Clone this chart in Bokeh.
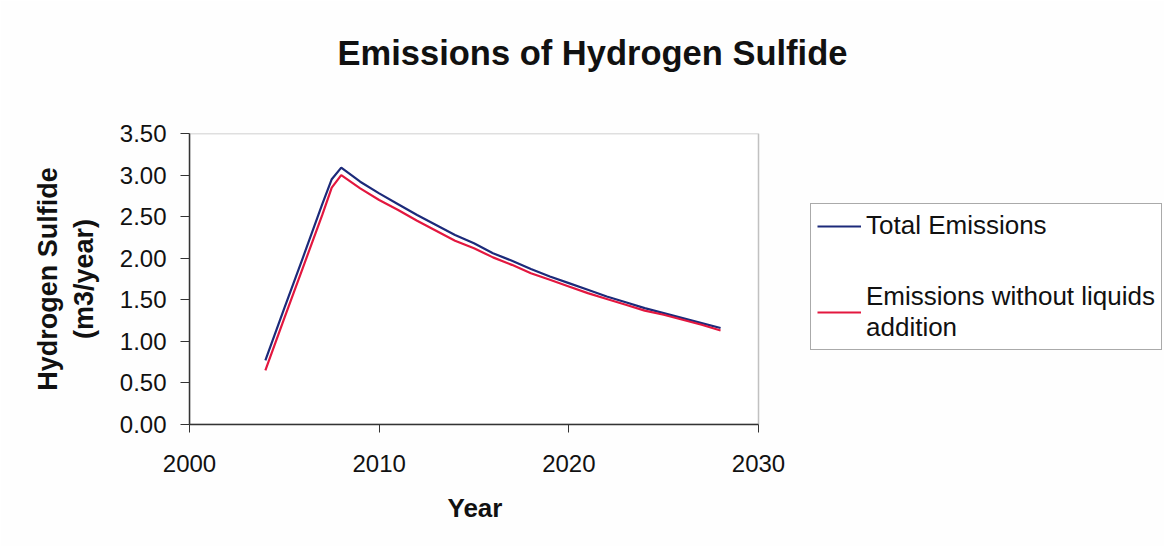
from bokeh.plotting import figure
from bokeh.models import (Legend, LegendItem, Range1d, FixedTicker, PrintfTickFormatter,
                          BoxAnnotation, Title)
from bokeh.embed import file_html
from bokeh.resources import INLINE

years = [2004, 2005, 2006, 2007, 2007.5, 2008, 2009, 2010, 2011, 2012, 2013, 2014, 2015, 2016,
         2017, 2018, 2019, 2020, 2021, 2022, 2023, 2024, 2025, 2026, 2027, 2028]
total_emissions = [0.77, 1.40, 2.02, 2.65, 2.95, 3.09, 2.92, 2.78, 2.65, 2.52, 2.40, 2.28, 2.18, 2.06,
                   1.97, 1.87, 1.78, 1.70, 1.62, 1.54, 1.47, 1.40, 1.34, 1.28, 1.22, 1.16]
without_liquids = [0.65, 1.28, 1.90, 2.52, 2.85, 3.00, 2.84, 2.70, 2.58, 2.45, 2.33, 2.21, 2.12, 2.01,
                   1.92, 1.82, 1.74, 1.66, 1.58, 1.51, 1.44, 1.37, 1.32, 1.26, 1.20, 1.13]
x_ticks = [2000, 2010, 2020, 2030]
y_ticks = [0, 0.5, 1.0, 1.5, 2.0, 2.5, 3.0, 3.5]
series_names = ["Total Emissions", "Emissions without liquids\naddition"]
series_colors = ["#1c2a7a", "#e3173f"]
x_title = "Year"
y_title = "Hydrogen Sulfide\n(m3/year)"
chart_title = "Emissions of Hydrogen Sulfide"

FONT = "Liberation Sans"
BG = "#fefefe"
W, H = 1164, 546
PLOT_LEFT, PLOT_RIGHT = 189, 758       # pixel edges of the plot area
PLOT_TOP, PLOT_BOTTOM = 133, 424

# the frame spans to the right edge so that the legend (an in-frame annotation) is not clipped;
# the x range is extended so that x_ticks[0]..x_ticks[-1] fills the plot area only
px_per_unit = (PLOT_RIGHT - PLOT_LEFT) / (x_ticks[-1] - x_ticks[0])
x_end = x_ticks[-1] + (W - PLOT_RIGHT) / px_per_unit

p = figure(width=W, height=H, output_backend="svg", toolbar_location=None,
           x_range=Range1d(x_ticks[0], x_end), y_range=Range1d(y_ticks[0], y_ticks[-1]),
           min_border_left=PLOT_LEFT, min_border_right=0,
           min_border_top=PLOT_TOP, min_border_bottom=H - PLOT_BOTTOM)
p.background_fill_color = BG
p.border_fill_color = BG
p.outline_line_color = None
p.xgrid.visible = False
p.ygrid.visible = False

# trailing empty line lifts the title within its panel
p.title.text = chart_title + "\n"
p.title.text_font = FONT
p.title.text_font_size = "34.5px"
p.title.text_font_style = "bold"
p.title.align = "left"
p.title.offset = 148
p.title.standoff = 48
p.title.text_color = "#111111"

xa = p.xaxis[0]
xa.ticker = FixedTicker(ticks=x_ticks)
xa.bounds = (x_ticks[0], x_ticks[-1])
ya = p.yaxis[0]
ya.ticker = FixedTicker(ticks=y_ticks)
ya.formatter = PrintfTickFormatter(format="%.2f")
ya.axis_label = y_title
for ax in (xa, ya):
    ax.axis_line_color = "#333333"
    ax.axis_line_width = 1.5
    ax.major_tick_line_color = "#333333"
    ax.major_tick_in = 0
    ax.minor_tick_line_color = None
    ax.major_label_text_font = FONT
    ax.major_label_text_font_size = "24px"
    ax.major_label_text_color = "#111111"
    ax.axis_label_text_font = FONT
    ax.axis_label_text_font_size = "27px"
    ax.axis_label_text_font_style = "bold"
    ax.axis_label_text_color = "#111111"
xa.major_tick_out = 8
xa.major_label_standoff = 22
ya.major_tick_out = 9
ya.major_label_standoff = 14
ya.axis_label_standoff = 18

# x-axis title, centred under the plot area (not the wider frame)
xt = Title(text=x_title, text_font=FONT, text_font_size="26px", text_font_style="bold",
           text_color="#111111", align="left", offset=258, vertical_align="top", standoff=36)
p.add_layout(xt, "below")

# plot-area box
p.add_layout(BoxAnnotation(left=x_ticks[0], right=x_ticks[-1], bottom=y_ticks[0], top=y_ticks[-1],
                           fill_color="#ffffff", fill_alpha=1.0, line_color="#333333",
                           line_width=1.5, level="underlay"))

r1 = p.line(years, total_emissions, line_color=series_colors[0], line_width=2.2)
r2 = p.line(years, without_liquids, line_color=series_colors[1], line_width=2.2)

legend = Legend(items=[LegendItem(label=series_names[0], renderers=[r1]),
                       LegendItem(label=series_names[1], renderers=[r2])],
                location=(810 - PLOT_LEFT, PLOT_BOTTOM - 350))
legend.border_line_color = "#555555"
legend.border_line_width = 1
legend.background_fill_color = "#ffffff"
legend.label_text_font = FONT
legend.label_text_font_size = "26px"
legend.label_text_line_height = 1.3
legend.label_text_color = "#111111"
legend.glyph_width = 44
legend.glyph_height = 20
legend.label_standoff = 5
legend.spacing = 40
legend.padding = 6
legend.margin = 0
p.add_layout(legend, "center")

open("out.html", "w").write(file_html(p, INLINE))
